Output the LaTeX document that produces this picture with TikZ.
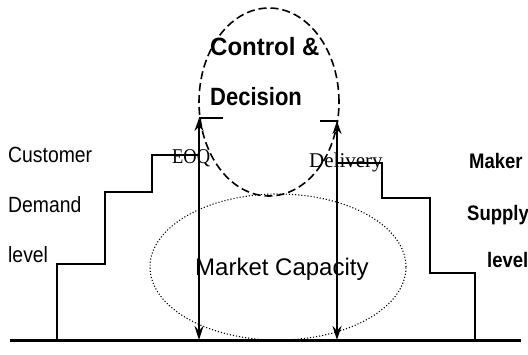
\documentclass[tikz,border=0pt]{standalone}
\usepackage{graphicx}
\usepackage{fontspec}
\setmainfont{Liberation Sans}
\newfontfamily\serifx{Liberation Serif}
\usetikzlibrary{arrows.meta,shapes.geometric}
\newcommand{\narrow}[1]{\scalebox{0.88}[1]{#1}}
\tikzset{
  levarr/.style={{Stealth[length=14pt,width=9pt]}-{Stealth[length=13pt,width=9pt]}, line width=1.8pt},
  stair/.style={line width=1.6pt},
  lbl/.style={font=\fontsize{22}{26}\selectfont, inner sep=0pt, anchor=base west},
}
\begin{document}
\begin{tikzpicture}[x=1pt, y=-1pt,
  ctrl/.style={draw, ellipse, line width=1.6pt, dash pattern=on 8pt off 4pt, minimum width=140pt, minimum height=188pt, inner sep=0pt},
  mkt/.style={draw, ellipse, line width=1.1pt, dotted, minimum width=256pt, minimum height=146pt, inner sep=0pt},
  tag/.style={font=\serifx\fontsize{21}{24}\selectfont, inner sep=0pt, anchor=base west},
  head/.style={font=\bfseries\fontsize{25}{28}\selectfont, inner sep=0pt, anchor=base west},
]
  \useasboundingbox (0,0) rectangle (528,354);
  % ellipses
  \node[mkt] (mc) at (278,267) {};
  \node[ctrl] (cd) at (269,102) {};
  \node[head] (cd1) at (210,55) {\scalebox{0.96}[1]{Control \&}};
  \node[head] (cd2) at (210,105) {\narrow{Decision}};
  \node[font=\fontsize{24}{28}\selectfont, inner sep=0pt, anchor=base west] (mct) at (195,275) {Market Capacity};
  % ground and stairs
  \coordinate (g0) at (10,340);
  \coordinate (g1) at (521,340);
  \draw[line width=3pt] (g0) -- (g1);
  \coordinate (ls) at (57,340);
  \coordinate (ea) at (199,340);
  \coordinate (eb) at (199,118);
  \coordinate (da) at (337,340);
  \coordinate (db) at (337,121);
  \draw[stair] (ls) |- (105,264) |- (152,192) |- (199,155);
  \draw[stair] (337,163) -| (382,198) -| (430,273) -| (475,340);
  \draw[stair] (eb) -- (223,118);
  \draw[stair] (320,121) -- (db);
  \draw[levarr] (ea) -- (eb);
  \draw[levarr] (da) -- (db);
  \node[tag] (eoq) at (172,163) {\narrow{EOQ}};
  \node[tag] (dlv) at (309,167) {Delivery};
  % side labels
  \node[lbl] (c1) at (8,162) {\narrow{Customer}};
  \node[lbl] (c2) at (8,212) {\narrow{Demand}};
  \node[lbl] (c3) at (8,262) {\narrow{level}};
  \node[lbl, font=\bfseries\fontsize{21}{24}\selectfont] (m1) at (469,168) {\narrow{Maker}};
  \node[lbl, font=\bfseries\fontsize{21}{24}\selectfont] (m2) at (467,220) {\narrow{Supply}};
  \node[lbl, font=\bfseries\fontsize{21}{24}\selectfont] (m3) at (487,267) {\narrow{level}};
\end{tikzpicture}
\end{document}
